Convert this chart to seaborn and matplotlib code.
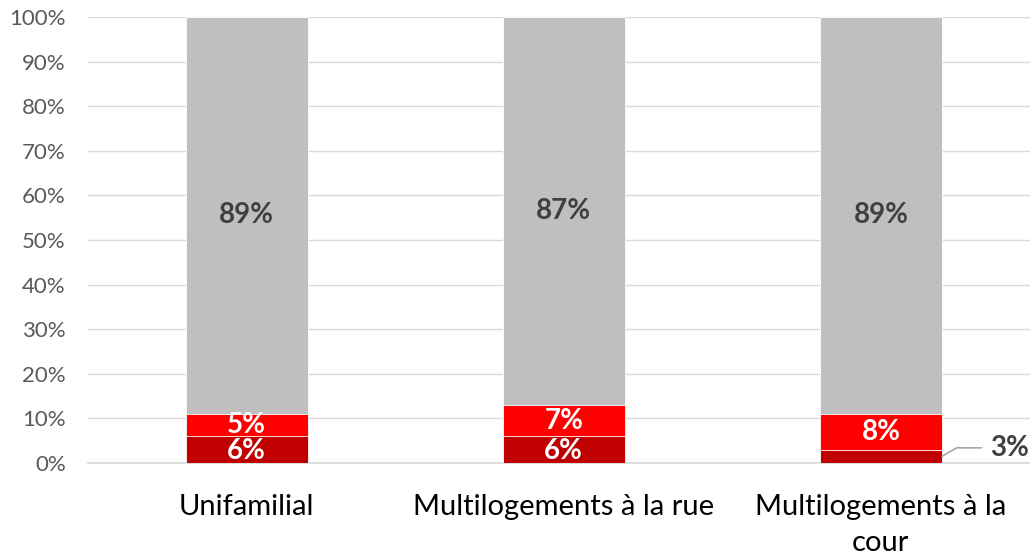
import pandas as pd
import matplotlib.pyplot as plt
import seaborn as sns

# Data
categories = ["Unifamilial", "Multilogements à la rue", "Multilogements à la\ncour"]
low = [6, 6, 3]
mid = [5, 7, 8]
top = [89, 87, 89]

df = pd.DataFrame({"cat": categories, "low": low, "mid": mid, "top": top})
df["cum_mid"] = df["low"] + df["mid"]
df["cum_top"] = df["cum_mid"] + df["top"]

sns.set_theme(style="white")
plt.rcParams["font.family"] = ["Lato", "DejaVu Sans"]

fig = plt.figure(figsize=(10.3, 5.56), dpi=100)
ax = fig.add_axes([88 / 1030, 1 - 463 / 556, 942 / 1030, 446 / 556])

bar_w = 0.385
# layered totals, drawn back to front
sns.barplot(data=df, x="cat", y="cum_top", color="#BFBFBF", width=bar_w,
            saturation=1, ax=ax, zorder=2)
sns.barplot(data=df, x="cat", y="cum_mid", color="#FF0000", width=bar_w,
            saturation=1, ax=ax, zorder=3)
sns.barplot(data=df, x="cat", y="low", color="#C00000", width=bar_w,
            saturation=1, ax=ax, zorder=4)

for p in ax.patches:
    p.set_edgecolor("white")
    p.set_linewidth(0.6)

# labels
lab = dict(fontsize=20, fontweight="bold", zorder=5)
for i, r in df.iterrows():
    ax.text(i, r["cum_mid"] + r["top"] / 2, f"{r['top']}%", ha="center", va="center",
            color="#404040", **lab)
    ax.text(i, r["low"] + r["mid"] / 2, f"{r['mid']}%", ha="center", va="center",
            color="white", **lab)
    if r["low"] >= 5:
        ax.text(i, r["low"] / 2 - 0.3, f"{r['low']}%", ha="center", va="center",
                color="white", **lab)
    else:
        ax.annotate(f"{r['low']}%", xy=(i + bar_w / 2, r["low"] / 2),
                    xytext=(i + 0.345, 3.4), ha="left", va="center",
                    color="#404040",
                    arrowprops=dict(arrowstyle="-", color="#A6A6A6", lw=1.2,
                                    connectionstyle="angle,angleA=0,angleB=30,rad=0",
                                    shrinkA=4, shrinkB=0),
                    annotation_clip=False, **lab)

ax.set_xlim(-0.5, 2.47)
ax.set_ylim(0, 100)
ax.set_yticks(range(0, 101, 10))
ax.set_yticklabels([f"{v}%" for v in range(0, 101, 10)])
ax.set_xlabel("")
ax.set_ylabel("")
ax.yaxis.grid(True, color="#D9D9D9", lw=1)
ax.set_axisbelow(True)
for s in ["top", "right", "left"]:
    ax.spines[s].set_visible(False)
ax.spines["bottom"].set_color("#D9D9D9")
ax.tick_params(axis="y", length=0, labelsize=16, labelcolor="#595959", pad=16)
ax.tick_params(axis="x", length=0, labelsize=21, labelcolor="#000000", pad=22)
for t in ax.get_xticklabels():
    t.set_linespacing(1.5)

fig.savefig("out.png", dpi=100)
